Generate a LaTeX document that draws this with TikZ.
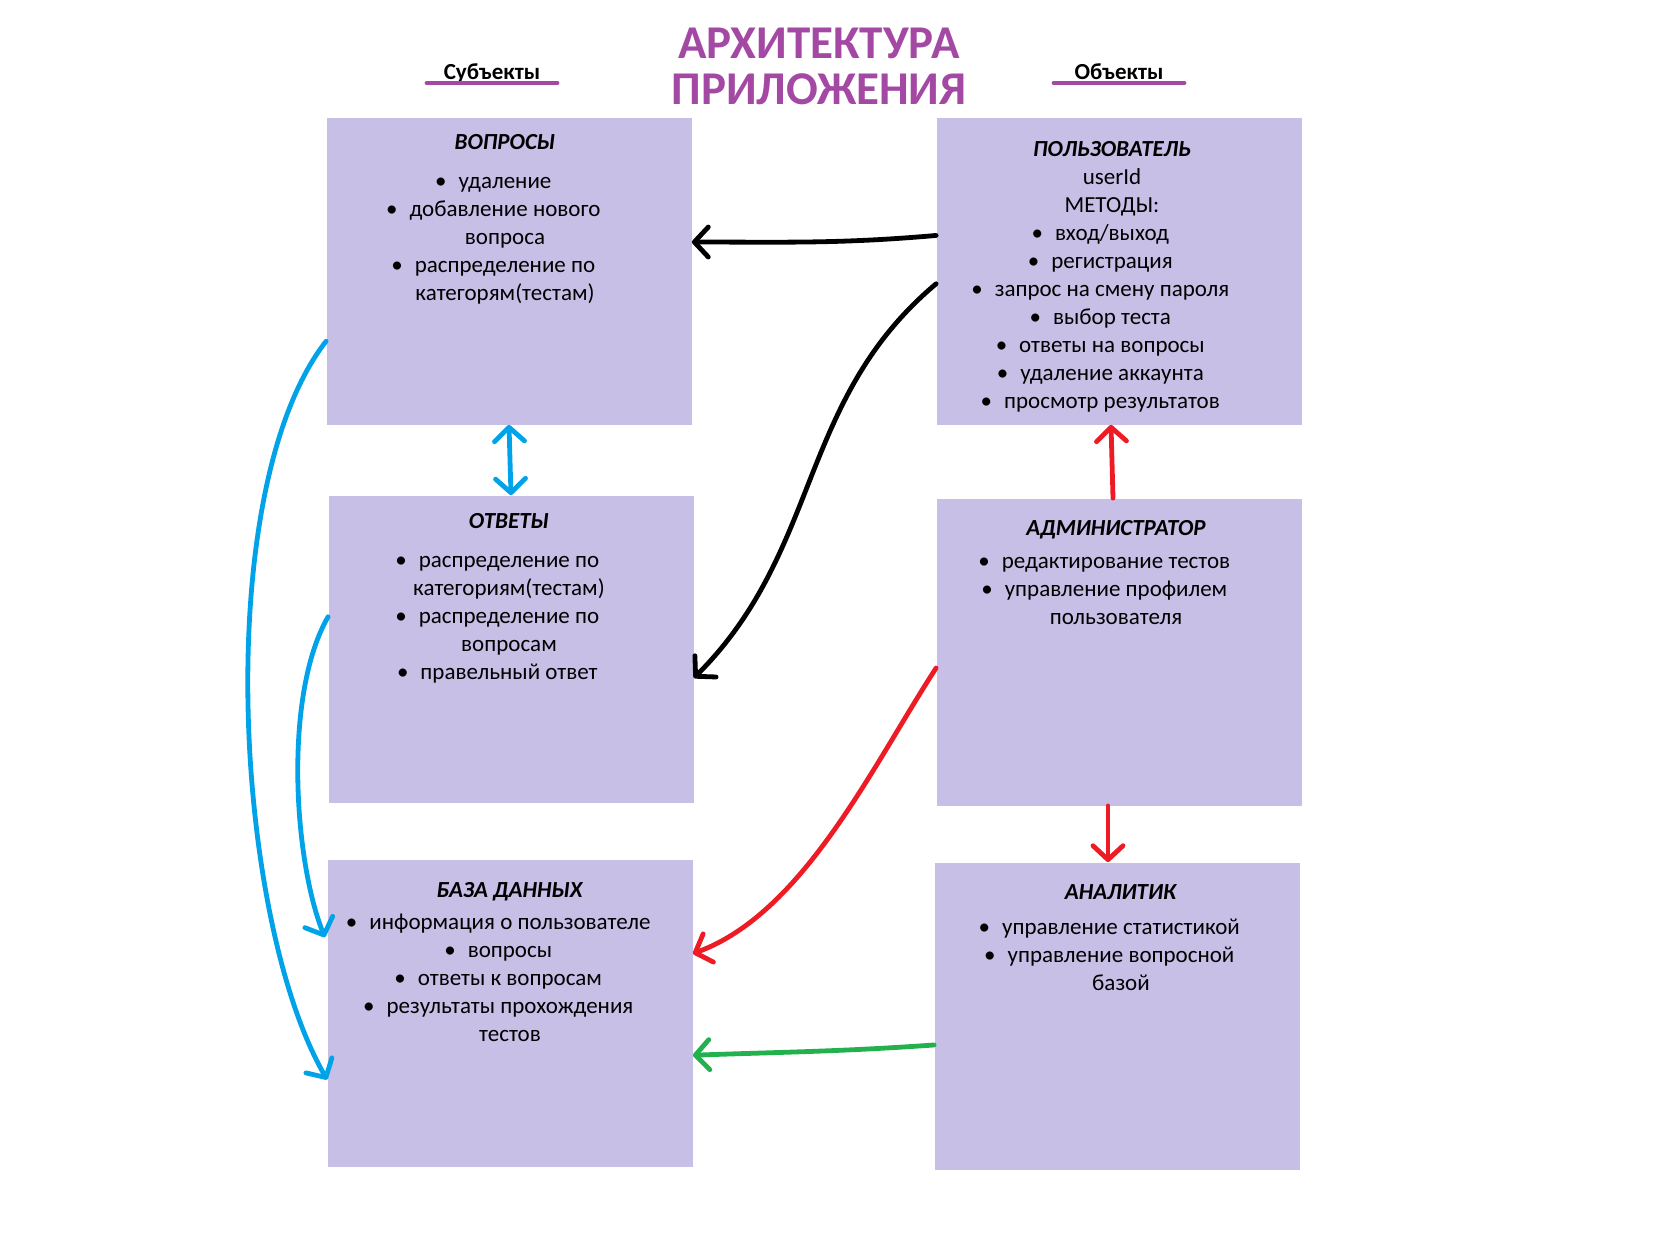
\documentclass[tikz,border=0pt]{standalone}
\usepackage{fontspec}
\setmainfont{Carlito}
\usetikzlibrary{positioning, arrows.meta}
\definecolor{lavender}{RGB}{200,191,231}
\definecolor{ppurple}{RGB}{163,73,164}
\definecolor{pblue}{RGB}{0,162,232}
\definecolor{pred}{RGB}{237,28,36}
\definecolor{pgreen}{RGB}{34,177,76}
\newcommand{\bul}{\llap{\textbullet\hspace{6pt}}}
\tikzset{box/.style={fill=lavender,minimum width=182.5pt,minimum height=153.5pt,inner sep=0pt},
         boxtext/.style={align=center,inner sep=0pt,font=\fontsize{11.5}{14}\selectfont},
         head/.style={font=\fontsize{11.5}{14}\selectfont\bfseries,minimum width=65pt,inner sep=0pt,text depth=1.5pt,anchor=south},
         uline/.style={ppurple,line width=2pt,line cap=round},
         hand/.style={line width=2.4pt,line cap=round,line join=round},
         >={Straight Barb[length=7pt,width=15pt,round]},
        }

\begin{document}
\begin{tikzpicture}[x=0.5pt,y=0.5pt]
        \useasboundingbox (0,0) rectangle (1655,-1254);

        \node[align=center,text=ppurple,font=\fontsize{23.5}{23}\selectfont\bfseries](title)at(819,-66){АРХИТЕКТУРА\\ПРИЛОЖЕНИЯ};
        \node[head](subj)at(492,-83){Субъекты};
        \node[head](obj)at(1119,-83){Объекты};
        \draw[uline](subj.south west)--(subj.south east);
        \draw[uline](obj.south west)--(obj.south east);

        \node[box](vopr)at(509,-271){};
        \node[box](otv)at(511,-649){};
        \node[box](baza)at(510,-1013){};
        \node[box](polz)at(1119,-271){};
        \node[box](admin)at(1119,-652){};
        \node[box](anal)at(1117,-1016){};

        \node[boxtext,below=8.25pt of vopr.north,xshift=-2pt](vopr-t){\textbf{\textit{ВОПРОСЫ}}\\[5.75pt]
            \bul удаление\\ \bul добавление нового\\ вопроса\\ \bul распределение по\\ категорям(тестам)};
        \node[boxtext,below=8.75pt of otv.north,xshift=-1pt](otv-t){\textbf{\textit{ОТВЕТЫ}}\\[5.75pt]
            \bul распределение по\\ категориям(тестам)\\ \bul распределение по\\ вопросам\\ \bul правельный ответ};
        \node[boxtext,below=11.25pt of baza.north](baza-t){\textbf{\textit{БАЗА ДАННЫХ}}\\[2.25pt]
            \bul информация о пользователе\\ \bul вопросы\\ \bul ответы к вопросам\\ \bul результаты прохождения\\ тестов};
        \node[boxtext,below=11.75pt of polz.north,xshift=-3.5pt](polz-t){\textbf{\textit{ПОЛЬЗОВАТЕЛЬ}}\\ userId\\ МЕТОДЫ:\\
            \bul вход/выход\\ \bul регистрация\\ \bul запрос на смену пароля\\ \bul выбор теста\\
            \bul ответы на вопросы\\ \bul удаление аккаунта\\ \bul просмотр результатов};
        \node[boxtext,below=10.75pt of admin.north,xshift=-1.5pt](admin-t){\textbf{\textit{АДМИНИСТРАТОР}}\\[2.75pt]
            \bul редактирование тестов\\ \bul управление профилем\\ пользователя};
        \node[boxtext,below=11.25pt of anal.north,xshift=2pt](anal-t){\textbf{\textit{АНАЛИТИК}}\\[3.5pt]
            \bul управление статистикой\\ \bul управление вопросной\\ базой};

        \draw[hand,->](polz.169)to[out=185,in=0](vopr.9);
        \draw[hand,->](polz.184)to[out=220,in=45](otv.351);

        \draw[hand,pblue,<->](vopr.south)--(otv.north);
        \draw[hand,pblue,->](vopr.201)to[out=232,in=120,looseness=0.65](baza.200);
        \draw[hand,pblue,->,shorten >=3pt](otv.170)to[out=240,in=112,looseness=0.7](baza.159);

        \draw[hand,pred,->]([xshift=-3pt]admin.north)--([xshift=-4pt]polz.south);
        \draw[hand,pred,->]([xshift=-5.5pt]admin.south)--([xshift=-4.5pt]anal.north);
        \draw[hand,pred,->](admin.185)to[out=237,in=20,looseness=0.8](baza.18);

        \draw[hand,pgreen,->](anal.189)to[out=184,in=2](baza.347);
\end{tikzpicture}
\end{document}
